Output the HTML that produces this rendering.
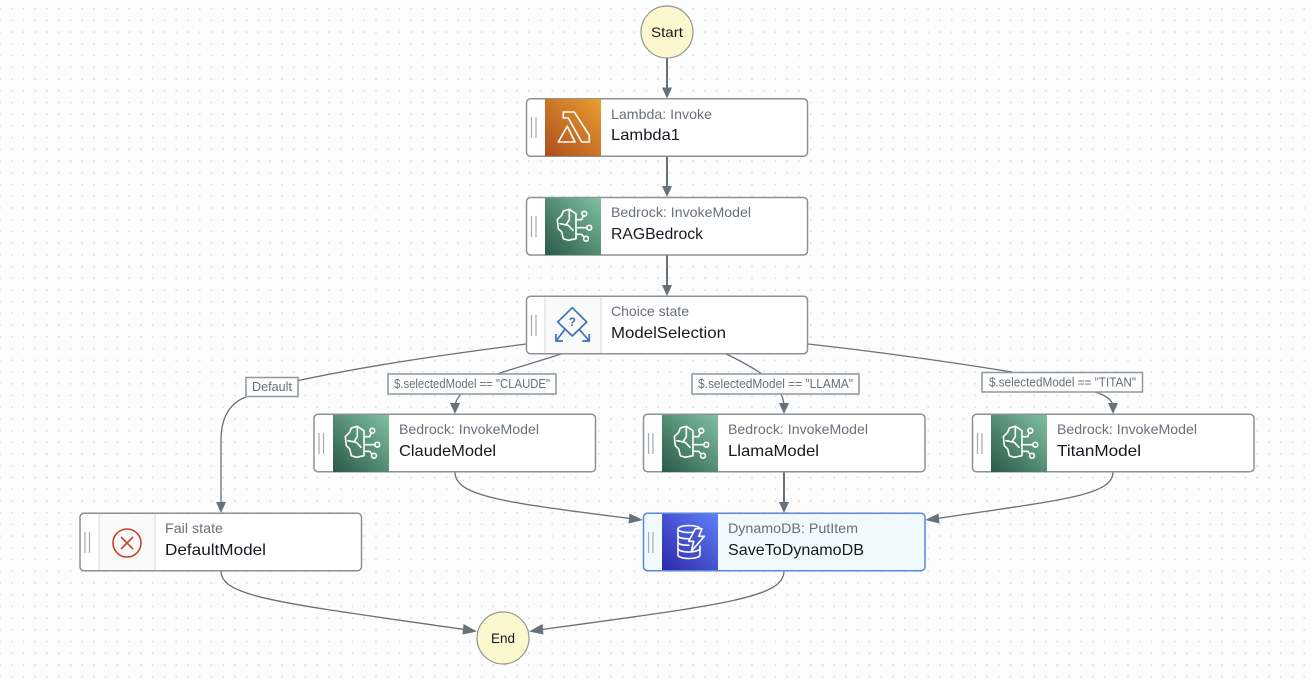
<!DOCTYPE html>
<html>
<head>
<meta charset="utf-8">
<style>
html,body{margin:0;padding:0;background:#fdfdfd;width:1311px;height:680px;overflow:hidden}
svg{display:block}
text{font-family:"Liberation Sans",sans-serif}
.sub{font-size:14px;fill:#687078}
.name{font-size:16px;fill:#16191f}
.lab{font-size:12.5px;fill:#687078}
.node{fill:#fff;stroke:#8b9196;stroke-width:1.5}
.edge{fill:none;stroke:#687078;stroke-width:1.3}
.main{fill:none;stroke:#687078;stroke-width:2}
.head{fill:#687078}
.labbox{fill:#fdfdfd;stroke:#8f989d;stroke-width:1.5}
.grip{stroke:#a2abaf;stroke-width:1.2}
.ic{fill:none;stroke:#fff;stroke-width:1.6;stroke-linejoin:round;stroke-linecap:round}
</style>
</head>
<body>
<svg width="1311" height="680" viewBox="0 0 1311 680" xmlns="http://www.w3.org/2000/svg">
<defs>
<pattern id="dots" x="5.87" y="2.85" width="11.75" height="11.72" patternUnits="userSpaceOnUse">
<circle cx="5.87" cy="5.86" r="1" fill="#e0e0e0"/>
</pattern>
<linearGradient id="gL" x1="0" y1="1" x2="1" y2="0"><stop offset="0" stop-color="#ad4f1e"/><stop offset="1" stop-color="#ea9c30"/></linearGradient>
<linearGradient id="gB" x1="0" y1="1" x2="1" y2="0"><stop offset="0" stop-color="#2a5948"/><stop offset="1" stop-color="#80c0a3"/></linearGradient>
<linearGradient id="gD" x1="0" y1="1" x2="1" y2="0"><stop offset="0" stop-color="#2e27ad"/><stop offset="1" stop-color="#5f80f5"/></linearGradient>
<g id="brain">
<rect width="56" height="57" fill="url(#gB)"/>
<g class="ic">
<path d="M24.300 11.300L18.300 13L16.700 17.300L12.300 21.700L13.300 30.700L16.700 34L18.300 40.700L23.300 42.300L31 40.700V15.700Z"/>
<path d="M24.300 11.300V21.700L21.700 25.700M15 25.700L23.300 27.300L28 32.300"/>
<path d="M31 21.700H36.700L38.300 17.500M31 29.700H41.500M31 36.300H36.700L39 39"/>
<circle cx="39.300" cy="15.700" r="2.400"/><circle cx="44.300" cy="29.700" r="2.400"/><circle cx="41" cy="40.700" r="2.400"/>
</g>
</g>
<g id="grip"><path class="grip" d="M0 0V21M4.500 0V21"/></g>
</defs>
<rect width="1311" height="680" fill="#fdfdfd"/>
<rect width="1311" height="680" fill="url(#dots)"/>

<!-- straight edges -->
<path class="main" d="M667 58V90M667 156V189M667 255V288M784 472V505"/>
<path class="head" d="M662 87.500h10L667 98.500zM662 186h10L667 197zM662 285h10L667 296zM779 502h10L784 513z"/>

<!-- curved edges -->
<path class="edge" d="M526 344C450 354 370 365 296 381"/>
<path class="edge" d="M246 397C232 402 221 415 221 440V506"/>
<path class="head" d="M216 502h10L221 513z"/>
<path class="edge" d="M564 353C540 361 518 367 497 374"/>
<path class="edge" d="M461 394C457 399 455 402 455 407"/>
<path class="head" d="M450 403h10L455 414z"/>
<path class="edge" d="M724 353C737 359 750 366 762 374"/>
<path class="edge" d="M781 394C783 398 784 402 784 407"/>
<path class="head" d="M779 403h10L784 414z"/>
<path class="edge" d="M808 344C880 352 950 362 1012 372"/>
<path class="edge" d="M1095 392C1105 395 1113 400 1113 407"/>
<path class="head" d="M1108 403h10L1113 414z"/>
<path class="edge" d="M455 472C455 496 500 502 634 519"/>
<path class="head" d="M629.500 513.500l13.500 6.500-14.500 3.500z"/>
<path class="edge" d="M1113 472C1113 496 1060 500 934 519"/>
<path class="head" d="M938.500 513.500l-13.500 6.500 14.500 3.500z"/>
<path class="edge" d="M221 571C221 597 280 603 468 630"/>
<path class="head" d="M463.500 624l13.500 7.500-14.500 3z"/>
<path class="edge" d="M784 571C784 597 730 604 538 630"/>
<path class="head" d="M542.500 624l-13.500 7.500 14.500 3z"/>

<!-- labels -->
<rect class="labbox" x="246" y="377.500" width="52" height="19"/>
<text class="lab" x="252" y="391" textLength="40" lengthAdjust="spacingAndGlyphs">Default</text>
<rect class="labbox" x="388" y="374" width="168" height="20"/>
<text class="lab" x="394" y="388" textLength="156" lengthAdjust="spacingAndGlyphs">$.selectedModel == "CLAUDE"</text>
<rect class="labbox" x="692" y="374" width="167" height="20"/>
<text class="lab" x="698" y="388" textLength="155" lengthAdjust="spacingAndGlyphs">$.selectedModel == "LLAMA"</text>
<rect class="labbox" x="982" y="372.500" width="160.500" height="19.500"/>
<text class="lab" x="989" y="386.500" textLength="147" lengthAdjust="spacingAndGlyphs">$.selectedModel == "TITAN"</text>

<!-- Start / End -->
<circle cx="667" cy="32" r="26" fill="#fdf7d0" stroke="#8f9694" stroke-width="1.2"/>
<text x="651" y="37" font-size="14" fill="#16191f" textLength="32" lengthAdjust="spacingAndGlyphs">Start</text>
<circle cx="503" cy="638" r="26" fill="#fdf7d0" stroke="#8f9694" stroke-width="1.2"/>
<text x="491" y="643" font-size="14" fill="#16191f" textLength="24" lengthAdjust="spacingAndGlyphs">End</text>

<!-- Lambda1 -->
<rect class="node" x="526.500" y="98.750" width="281" height="57.500" rx="4"/>
<g transform="translate(545,99)">
<rect width="56" height="57" fill="url(#gL)"/>
<g class="ic"><path d="M18.300 13H29.300L44.300 36.300V43H36.700L23.300 19H18.300Z"/><path d="M22.300 27.300L30 43H13.300Z"/></g>
</g>
<use href="#grip" x="531.500" y="117"/>
<text class="sub" x="611" y="119" textLength="101" lengthAdjust="spacingAndGlyphs">Lambda: Invoke</text>
<text class="name" x="611" y="140" textLength="69" lengthAdjust="spacingAndGlyphs">Lambda1</text>

<!-- RAGBedrock -->
<rect class="node" x="526.500" y="197.500" width="281" height="57.500" rx="4"/>
<use href="#brain" x="545" y="198"/>
<use href="#grip" x="531.500" y="216"/>
<text class="sub" x="611" y="217" textLength="140" lengthAdjust="spacingAndGlyphs">Bedrock: InvokeModel</text>
<text class="name" x="611" y="239" textLength="92" lengthAdjust="spacingAndGlyphs">RAGBedrock</text>

<!-- ModelSelection -->
<rect class="node" x="526.500" y="296.250" width="281" height="57.500" rx="4"/>
<rect x="545" y="297" width="56" height="56" fill="#fafafa"/>
<path d="M545 297V353M601 297V353" stroke="#d5dbdb" stroke-width="1"/>
<g fill="none" stroke="#3c72bd" stroke-width="1.700">
<path d="M572.300 307.700L586.700 322L572.300 336L557.700 322Z" stroke-linejoin="round"/>
<path d="M565 329.300L556 341M556 334V341H563M579.300 329.300L589.300 341M589.300 334V341H582.300"/>
</g>
<text x="572.300" y="326" font-size="12" font-weight="bold" fill="#3c72bd" text-anchor="middle">?</text>
<use href="#grip" x="531.500" y="315"/>
<text class="sub" x="611" y="316" textLength="78" lengthAdjust="spacingAndGlyphs">Choice state</text>
<text class="name" x="611" y="338" textLength="115" lengthAdjust="spacingAndGlyphs">ModelSelection</text>

<!-- ClaudeModel -->
<rect class="node" x="314" y="414.250" width="281.500" height="57.500" rx="4"/>
<use href="#brain" x="333" y="415"/>
<use href="#grip" x="319" y="433"/>
<text class="sub" x="399" y="434" textLength="140" lengthAdjust="spacingAndGlyphs">Bedrock: InvokeModel</text>
<text class="name" x="399" y="456" textLength="97" lengthAdjust="spacingAndGlyphs">ClaudeModel</text>

<!-- LlamaModel -->
<rect class="node" x="643.500" y="414.250" width="281.500" height="57.500" rx="4"/>
<use href="#brain" x="662" y="415"/>
<use href="#grip" x="648.500" y="433"/>
<text class="sub" x="728" y="434" textLength="140" lengthAdjust="spacingAndGlyphs">Bedrock: InvokeModel</text>
<text class="name" x="728" y="456" textLength="91" lengthAdjust="spacingAndGlyphs">LlamaModel</text>

<!-- TitanModel -->
<rect class="node" x="972.500" y="414.250" width="281.500" height="57.500" rx="4"/>
<use href="#brain" x="991" y="415"/>
<use href="#grip" x="977.500" y="433"/>
<text class="sub" x="1057" y="434" textLength="140" lengthAdjust="spacingAndGlyphs">Bedrock: InvokeModel</text>
<text class="name" x="1057" y="456" textLength="84" lengthAdjust="spacingAndGlyphs">TitanModel</text>

<!-- DefaultModel -->
<rect class="node" x="80" y="513.250" width="281.500" height="57.500" rx="4"/>
<rect x="99" y="514" width="56" height="56" fill="#fafafa"/>
<path d="M99 514V570M155 514V570" stroke="#d5dbdb" stroke-width="1"/>
<circle cx="127" cy="543" r="14" fill="none" stroke="#c7432a" stroke-width="1.6"/>
<path d="M121 537L133 549M133 537L121 549" stroke="#c7432a" stroke-width="1.6" fill="none"/>
<use href="#grip" x="85" y="532"/>
<text class="sub" x="165" y="533" textLength="58" lengthAdjust="spacingAndGlyphs">Fail state</text>
<text class="name" x="165" y="555" textLength="101" lengthAdjust="spacingAndGlyphs">DefaultModel</text>

<!-- SaveToDynamoDB -->
<rect x="643.500" y="513.250" width="281.500" height="57.500" rx="4" fill="#f1faff" stroke="#5a85e0" stroke-width="1.5"/>
<g transform="translate(662,514)">
<rect width="56" height="56" fill="url(#gD)"/>
<g class="ic">
<ellipse cx="27" cy="15" rx="11" ry="3.500"/>
<path d="M16 15V41C16 43 21 44.500 27 44.500C33 44.500 38 43 38 41V32"/>
<path d="M16 21.500C16 23.500 20 24.800 27 24.800M16 28C16 30 20 31.300 27 31.300M16 34.500C16 36.500 21 38 27 38C31 38 36 37 38 35"/>
<path d="M33.300 14.700H40L36.700 22.300H42.300L29.300 37.300L31.700 27.300H26.700Z" fill="#4a55c9"/>
</g>
</g>
<use href="#grip" x="648.500" y="532"/>
<text class="sub" x="728" y="533" textLength="130" lengthAdjust="spacingAndGlyphs">DynamoDB: PutItem</text>
<text class="name" x="728" y="555" textLength="136" lengthAdjust="spacingAndGlyphs">SaveToDynamoDB</text>
</svg>
</body>
</html>
